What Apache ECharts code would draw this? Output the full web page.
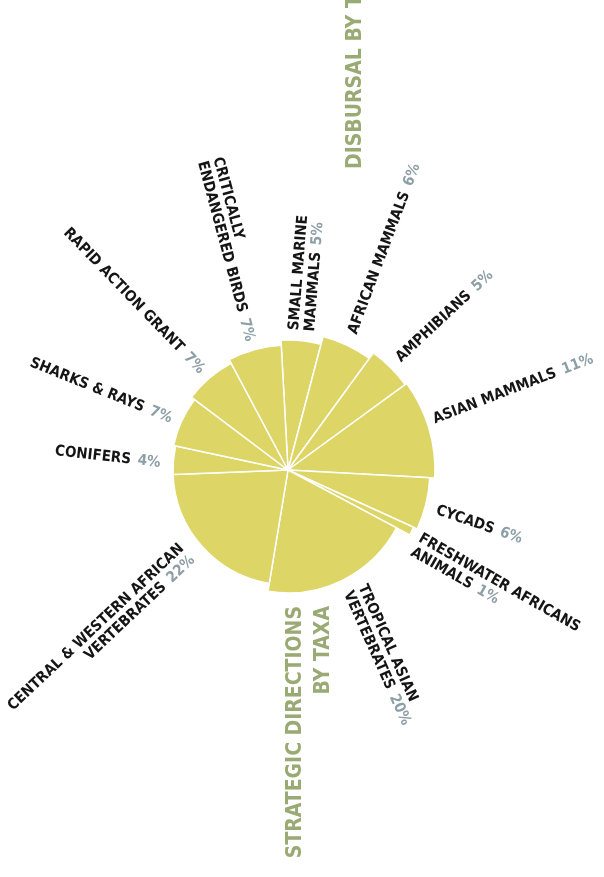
<!DOCTYPE html>
<html>
<head>
<meta charset="utf-8">
<script src="https://cdn.jsdelivr.net/npm/echarts@6/dist/echarts.min.js"></script>
<style>
  html, body { margin: 0; padding: 0; background: #ffffff; }
  #chart { width: 604px; height: 877px; }
</style>
</head>
<body>
<div id="chart"></div>
<script>
// Grant share per taxon group, in percent, clockwise from the top.
const categories = [
  'SMALL MARINE\nMAMMALS',
  'AFRICAN MAMMALS',
  'AMPHIBIANS',
  'ASIAN MAMMALS',
  'CYCADS',
  'FRESHWATER AFRICANS\nANIMALS',
  'TROPICAL ASIAN\nVERTEBRATES',
  'CENTRAL & WESTERN AFRICAN\nVERTEBRATES',
  'CONIFERS',
  'SHARKS & RAYS',
  'RAPID ACTION GRANT',
  'CRITICALLY\nENDANGERED BIRDS'
];
const shares = [5, 6, 5, 11, 6, 1, 20, 22, 4, 7, 7, 7];

const titleTop = 'DISBURSAL BY TYPE';
const titleBottom = 'STRATEGIC DIRECTIONS\nBY TAXA';

// Layout: the pie outline is slightly irregular, so each slice gets its own outer radius.
const sliceRadius = [130, 138, 145, 147, 142, 138, 123, 115, 115, 117, 121, 125];
// Gap between slice edge and its label, and the label's heading (degrees clockwise from 12 o'clock).
const labelGap = [10, 13, 11, 9, 13, 10, 16, 14, 13, 10, 10, 11];
const labelHeading = [4.5, 20.5, 47, 69, 109, 119.7, 156, 226.7, 276.4, 292, 316, 345];
// Small hand nudges for crowded labels, in screen pixels [right, down].
const labelShift = [[0, 0], [0, 0], [0, 0], [-4, -6], [-2, 3], [-5, 9], [5, -6], [-4, -3], [0, 4], [-1, 2], [-1, 1], [6, 0]];
const startAlignedLabels = [11];

const YELLOW = '#ddd566';
const GREEN = '#9aaa74';
const GREY = '#8c9ea6';
const INK = '#151515';
const FONT = '"DejaVu Sans Condensed", "DejaVu Sans", sans-serif';

const nameStyle = { color: INK, fontFamily: FONT, fontWeight: 'bold', fontSize: 15, lineHeight: 16 };
const pctStyle = { color: GREY, fontFamily: FONT, fontWeight: 'bold', fontSize: 15, lineHeight: 16, padding: [0, 0, 0, 7] };
const rich = {
  n: nameStyle,
  p: pctStyle,
  nl: Object.assign({}, nameStyle, { align: 'left' }),
  pl: Object.assign({}, pctStyle, { align: 'left' })
};

function labelText(p) {
  const lines = p.name.split('\n');
  const s = startAlignedLabels.indexOf(p.dataIndex) >= 0 ? 'l' : '';
  return lines.map(function (t, k) {
    let out = '{n' + s + '|' + t + '}';
    if (k === lines.length - 1) out += '{p' + s + '|' + p.value + '%}';
    return out;
  }).join('\n');
}

// Text always reads left to right: outward on the right half, inward on the left half.
function labelRotation(heading) {
  return heading < 180 ? 90 - heading : 270 - heading;
}

// Label dx/dy act in the label's rotated frame, so turn a screen shift into that frame.
function localShift(i) {
  const r = labelRotation(labelHeading[i]) * Math.PI / 180;
  const c = Math.cos(r), s = Math.sin(r);
  const sx = labelShift[i][0], sy = labelShift[i][1];
  return { dx: sx * c - sy * s, dy: sx * s + sy * c };
}

// One pie per slice, all sharing the same angles; only the owning slice is painted.
const series = categories.map(function (_, i) {
  return {
    type: 'pie',
    center: [288, 470],
    radius: [0, sliceRadius[i]],
    startAngle: 93.1,
    clockwise: true,
    avoidLabelOverlap: false,
    silent: true,
    animation: false,
    emphasis: { disabled: true },
    label: { show: false },
    labelLine: { show: false },
    labelLayout: function (params) {
      return localShift(params.dataIndex);
    },
    data: categories.map(function (name, j) {
      const own = i === j;
      return {
        name: name,
        value: shares[j],
        itemStyle: own
          ? { color: YELLOW, borderColor: '#ffffff', borderWidth: 1.5 }
          : { color: 'rgba(0,0,0,0)', borderWidth: 0 },
        label: own
          ? { show: true, position: 'outside', rotate: labelRotation(labelHeading[j]),
              distanceToLabelLine: 0, formatter: labelText, rich: rich }
          : { show: false },
        labelLine: { show: false, length: labelGap[j], length2: 0 }
      };
    })
  };
});

const chart = echarts.init(document.getElementById('chart'), null, { renderer: 'canvas' });
chart.setOption({
  backgroundColor: '#ffffff',
  animation: false,
  series: series,
  graphic: [
    {
      type: 'text', x: 356, y: 169, rotation: Math.PI / 2,
      style: { text: titleTop, fill: GREEN, font: 'bold 21px ' + FONT, align: 'left', verticalAlign: 'middle' }
    },
    {
      type: 'text', x: 310, y: 606, rotation: Math.PI / 2,
      style: { text: titleBottom, fill: GREEN, font: 'bold 21px ' + FONT, align: 'right', verticalAlign: 'middle', lineHeight: 28 }
    }
  ]
});
</script>
</body>
</html>
